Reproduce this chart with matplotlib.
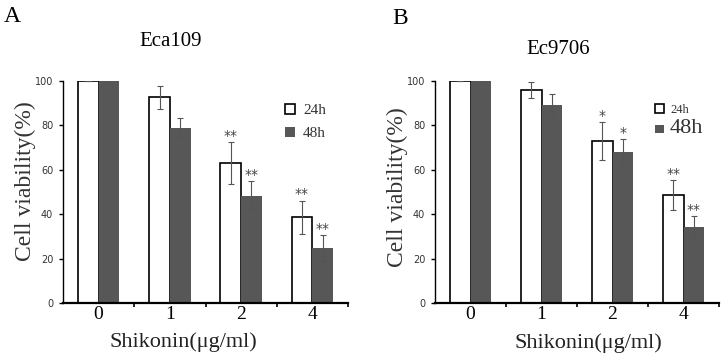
import numpy as np
import matplotlib
matplotlib.use('Agg')
import matplotlib.pyplot as plt

# values (percent viability, mean and error)
doses = ['0', '1', '2', '4']

eca_24h = [100, 92.6, 63.0, 38.6]
eca_24h_err = [0, 5.3, 9.4, 7.5]
eca_48h = [100, 79.0, 48.3, 24.9]
eca_48h_err = [0, 4.5, 6.6, 5.8]
eca_24h_stars = ['', '', '**', '**']
eca_48h_stars = ['', '', '**', '**']

ec_24h = [100, 95.9, 73.1, 48.5]
ec_24h_err = [0, 3.6, 8.5, 6.7]
ec_48h = [100, 89.2, 68.2, 34.4]
ec_48h_err = [0, 5.0, 5.6, 4.9]
ec_24h_stars = ['', '', '*', '**']
ec_48h_stars = ['', '', '*', '**']

SERIF = 'Liberation Serif'
GRAY = '#575757'

fig = plt.figure(figsize=(7.25, 3.6), dpi=100)
W, H = 725, 360


def px_axes(x0, x1, y_top, y_bot):
    return fig.add_axes([x0 / W, 1 - y_bot / H, (x1 - x0) / W, (y_bot - y_top) / H])


def draw_panel(ax, v24, e24, v48, e48, s24, s48):
    x = np.arange(len(doses))
    w = 0.29
    ax.bar(x - w / 2, v24, w, color='white', edgecolor='black', linewidth=1.2, zorder=2)
    ax.bar(x + w / 2, v48, w, color=GRAY, edgecolor='none', zorder=2)
    ax.errorbar(x - w / 2, v24, yerr=e24, fmt='none', ecolor='#555555',
                elinewidth=0.8, capsize=2.5, capthick=0.8, zorder=3)
    ax.errorbar(x + w / 2, v48, yerr=e48, fmt='none', ecolor='#555555',
                elinewidth=0.8, capsize=2.5, capthick=0.8, zorder=3)
    for xi, v, e, s in zip(x - w / 2, v24, e24, s24):
        if s:
            ax.text(xi, v + e + 1.0, s, ha='center', va='baseline',
                    fontsize=10, color='#444444', family='DejaVu Sans')
    for xi, v, e, s in zip(x + w / 2, v48, e48, s48):
        if s:
            ax.text(xi, v + e + 1.0, s, ha='center', va='baseline',
                    fontsize=10, color='#444444', family='DejaVu Sans')

    ax.set_xlim(-0.5, len(doses) - 0.5)
    ax.set_ylim(0, 100)
    ax.set_yticks([0, 20, 40, 60, 80, 100])
    ax.tick_params(axis='y', direction='out', length=3, width=1,
                   labelsize=7, labelcolor='#333333', pad=4)
    ax.set_xticks(x)
    ax.set_xticklabels(doses, family=SERIF, fontsize=14)
    ax.set_xticks(x + 0.5, minor=True)
    ax.tick_params(axis='x', which='major', length=0, pad=2)
    ax.tick_params(axis='x', which='minor', direction='out', length=3, width=1.2)
    for sp in ['top', 'right']:
        ax.spines[sp].set_visible(False)
    ax.spines['left'].set_linewidth(1.0)
    ax.spines['bottom'].set_linewidth(1.6)
    ax.spines['bottom'].set_zorder(4)
    ax.patch.set_alpha(0)
    return ax


axA = px_axes(63, 348, 81, 303)
draw_panel(axA, eca_24h, eca_24h_err, eca_48h, eca_48h_err, eca_24h_stars, eca_48h_stars)
legA = axA.legend(['24h', '48h'], loc='center left', bbox_to_anchor=(0.73, 0.815),
                  frameon=False, handlelength=0.7, handleheight=0.7,
                  handletextpad=0.5, labelspacing=0.6,
                  prop={'family': SERIF, 'size': 11})
for t in legA.get_texts():
    t.set_color('#333333')

axB = px_axes(435, 719, 81, 303)
draw_panel(axB, ec_24h, ec_24h_err, ec_48h, ec_48h_err, ec_24h_stars, ec_48h_stars)
legB = axB.legend(['24h', '48h'], loc='center left', bbox_to_anchor=(0.735, 0.82),
                  frameon=False, handlelength=0.7, handleheight=0.7,
                  handletextpad=0.5, labelspacing=0.3,
                  prop={'family': SERIF, 'size': 9})
legB.get_texts()[1].set_fontsize(16)
for t in legB.get_texts():
    t.set_color('#333333')

# panel letters, titles and axis labels
fig.text(12 / W, 1 - 17 / H, 'A', family=SERIF, fontsize=17, ha='center', va='center')
fig.text(400 / W, 1 - 18 / H, 'B', family=SERIF, fontsize=17, ha='center', va='center')
fig.text(171 / W, 1 - 41 / H, 'Eca109', family=SERIF, fontsize=15, ha='center', va='center')
fig.text(558 / W, 1 - 49 / H, 'Ec9706', family=SERIF, fontsize=15, ha='center', va='center')

fig.text(25 / W, 1 - 181 / H, 'Cell viability(%)', family=SERIF, fontsize=17,
         rotation=90, ha='center', va='center', color='#333333')
fig.text(397 / W, 1 - 187 / H, 'Cell viability(%)', family=SERIF, fontsize=17,
         rotation=90, ha='center', va='center', color='#333333')
fig.text(183 / W, 1 - 342 / H, 'Shikonin(\u03bcg/ml)', family=SERIF, fontsize=16,
         ha='center', va='center', color='#222222')
fig.text(588 / W, 1 - 343 / H, 'Shikonin(\u03bcg/ml)', family=SERIF, fontsize=16,
         ha='center', va='center', color='#222222')

fig.savefig('out.png', dpi=100, facecolor='white')
